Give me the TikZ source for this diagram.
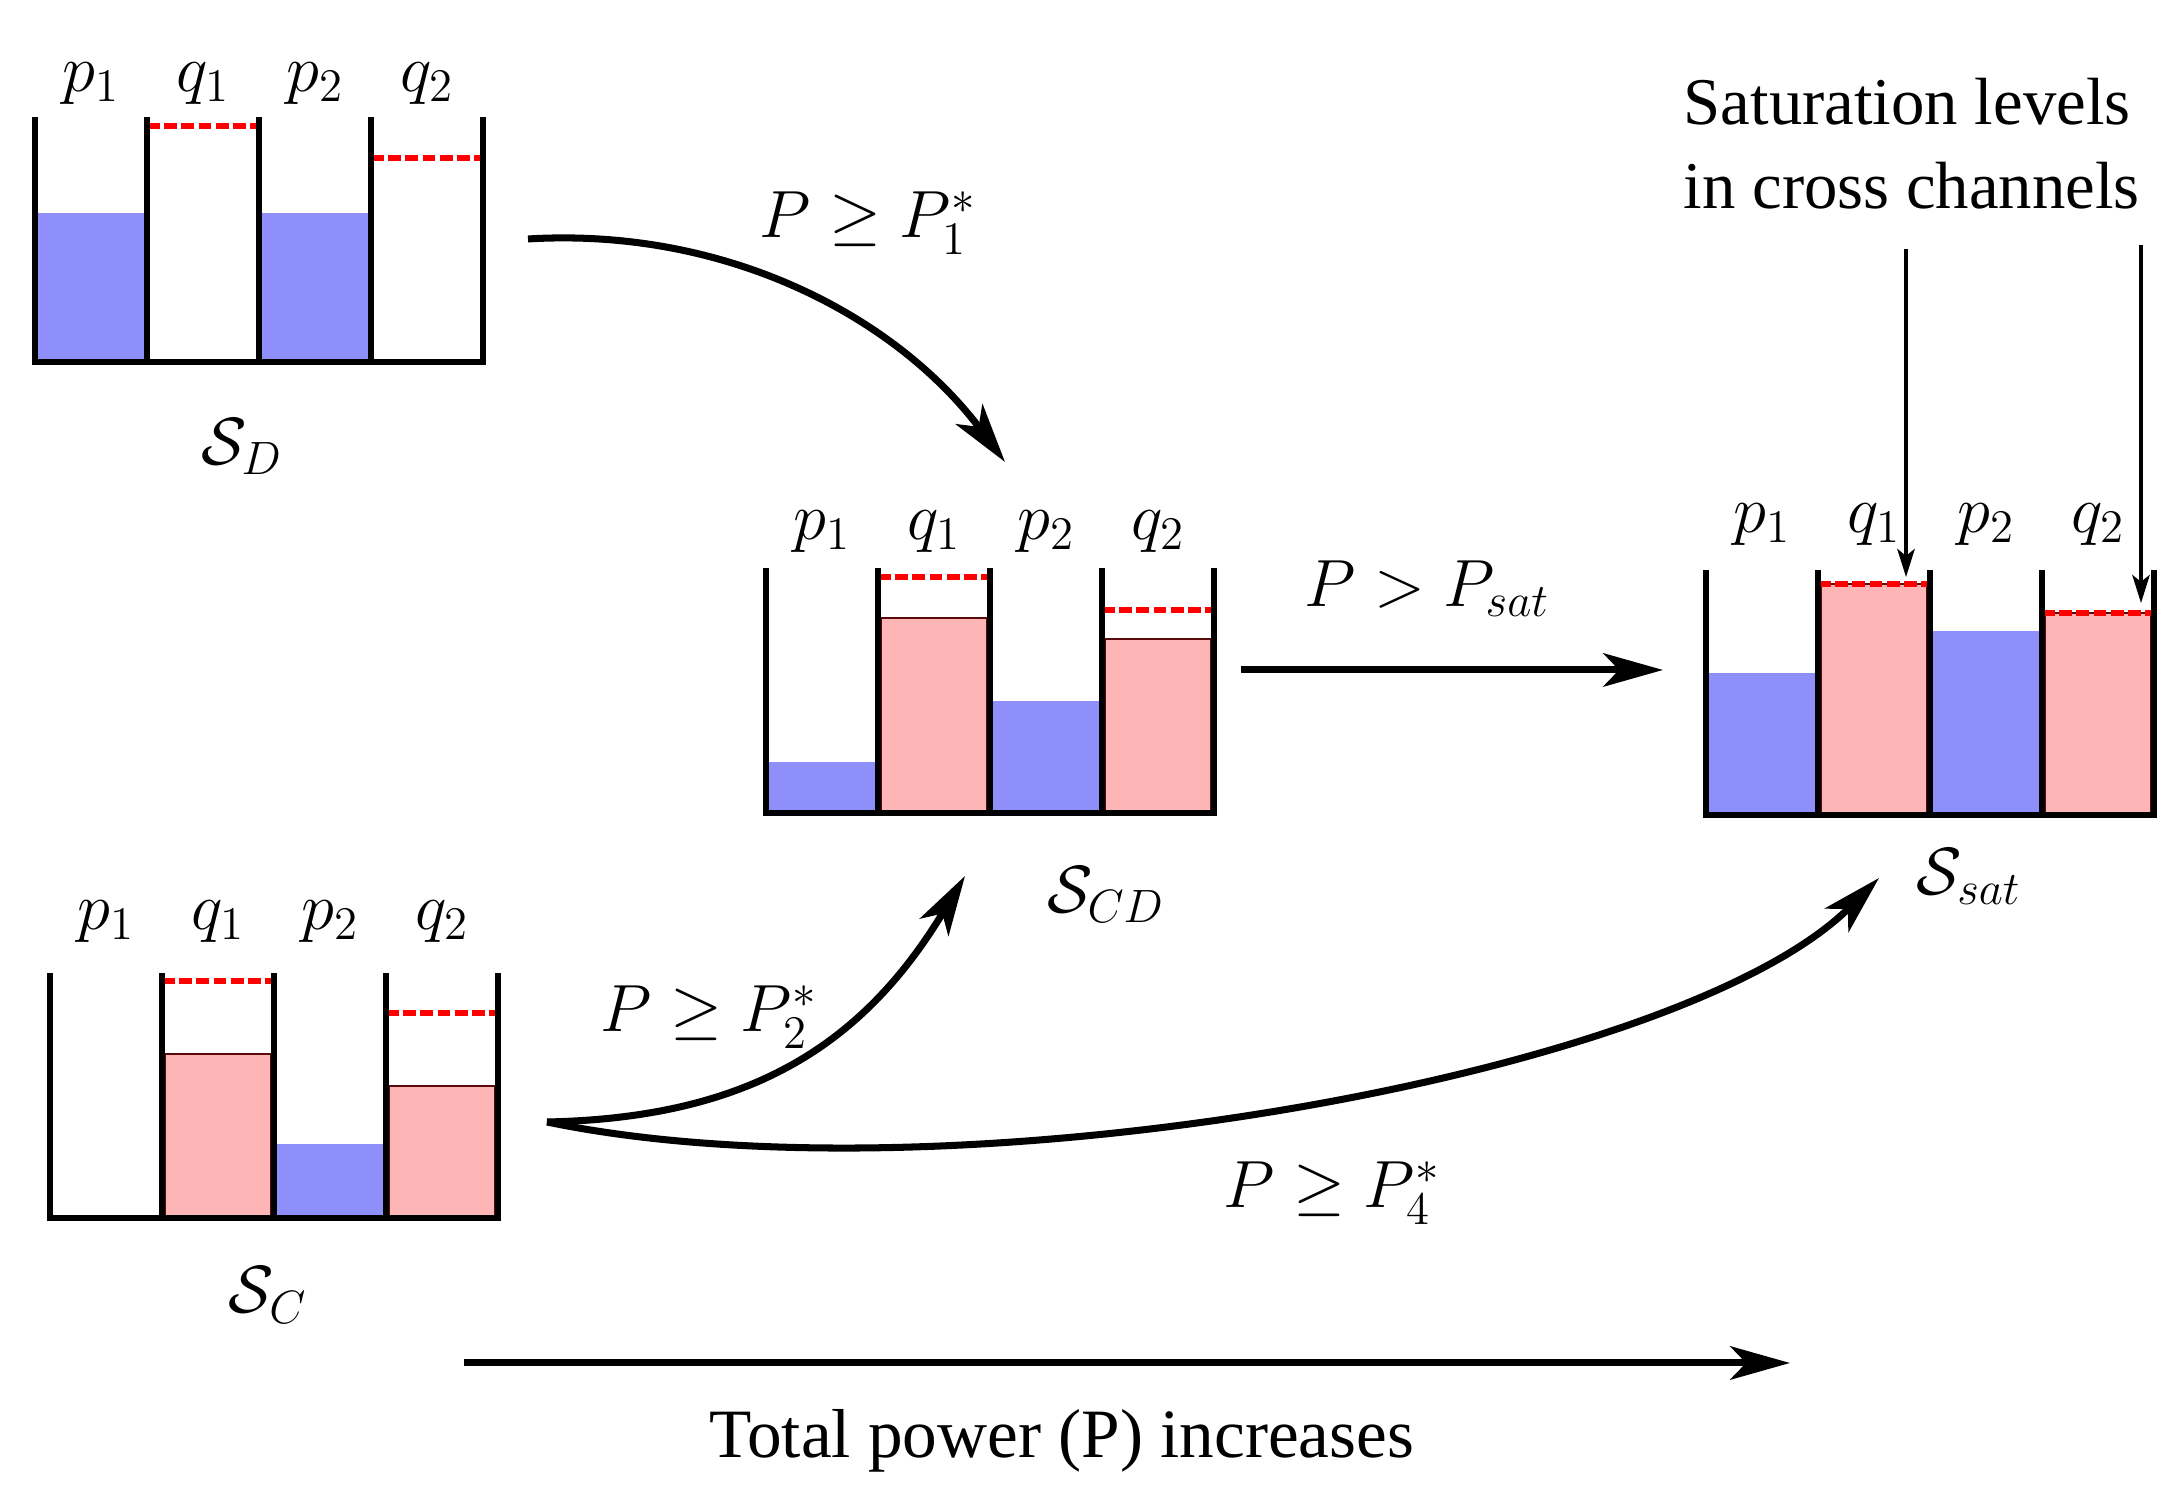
\RequirePackage{fix-cm}
\documentclass[tikz,border=0pt]{standalone}
\usepackage[no-math]{fontspec}
\setmainfont{Liberation Serif}
\usetikzlibrary{arrows.meta}
\definecolor{pblue}{RGB}{143,143,252}
\definecolor{qpink}{RGB}{253,181,181}
\definecolor{qedge}{RGB}{90,10,10}

% #1 name, #2 origin, #3-#6 fill of p1 q1 p2 q2, #7 #8 saturation of q1 q2, #9 label lift
\newcommand{\tankrow}[9]{%
    \begin{scope}[shift={#2}]
        \fill[pbar] (0,0) rectangle (1.12,#3);
        \fill[pbar] (2.24,0) rectangle (3.36,#5);
        \filldraw[qbar] (1.15,0.02) rectangle (2.21,#4);
        \filldraw[qbar] (3.39,0.02) rectangle (4.45,#6);
        \draw[satline] (1.12,#7) -- (2.24,#7);
        \draw[satline] (3.36,#8) -- (4.48,#8);
        \draw[wall] (0,2.45) -- (0,0) -- (4.48,0) -- (4.48,2.45);
        \foreach \x in {1.12,2.24,3.36}{
            \draw[wall] (\x,0) -- (\x,2.45);
        }
        \node[chan] (#1-p1) at (0.56,{2.45+#9}) {$p_1$};
        \node[chan] (#1-q1) at (1.68,{2.45+#9}) {$q_1$};
        \node[chan] (#1-p2) at (2.80,{2.45+#9}) {$p_2$};
        \node[chan] (#1-q2) at (3.92,{2.45+#9}) {$q_2$};
    \end{scope}}

\begin{document}
\begin{tikzpicture}[
        font=\fontsize{19}{24}\selectfont,
        wall/.style={line width=1.5pt},
        satline/.style={red, line width=1.6pt, dash pattern=on 3.6pt off 1.3pt},
        pbar/.style={fill=pblue},
        qbar/.style={fill=qpink, draw=qedge, line width=0.6pt},
        flow/.style={line width=2pt, -{Stealth[length=17pt,width=9.5pt,inset=4.5pt]}},
        pointer/.style={line width=0.9pt, -{Stealth[length=8pt,width=5pt,inset=2pt]}},
        chan/.style={anchor=base, inner sep=0pt},
    ]
    \useasboundingbox (0,0) rectangle (21.82,15.02);

    % the four states
    \tankrow{D}{(0.35,11.40)}{1.49}{0}{1.49}{0}{2.36}{2.04}{0.25}
    \tankrow{CD}{(7.66,6.89)}{0.51}{1.95}{1.12}{1.74}{2.36}{2.03}{0.28}
    \tankrow{C}{(0.50,2.84)}{0}{1.64}{0.74}{1.32}{2.37}{2.05}{0.43}
    \tankrow{sat}{(17.06,6.87)}{1.42}{2.31}{1.84}{2.02}{2.31}{2.02}{0.37}

    \node[chan] (SD) at (2.42,10.37) {$\mathcal{S}_D$};
    \node[chan] (SCD) at (11.06,5.89) {$\mathcal{S}_{CD}$};
    \node[chan] (SC) at (2.68,1.89) {$\mathcal{S}_C$};
    \node[chan] (Ssat) at (19.69,6.07) {$\mathcal{S}_{sat}$};

    % transitions
    \coordinate (D-out) at (5.28,12.63);
    \coordinate (CD-in) at (10.05,10.40);
    \coordinate (CD-out) at (12.41,8.32);
    \coordinate (sat-in) at (16.63,8.32);
    \coordinate (C-out) at (5.47,3.80);
    \coordinate (CD-in2) at (9.65,6.26);
    \coordinate (sat-in2) at (18.79,6.24);

    \draw[flow] (D-out) .. controls (7.28,12.75) and (8.97,11.84) .. (CD-in);
    \draw[flow] (CD-out) -- (sat-in);
    \draw[flow] (C-out) .. controls (7.47,3.84) and (8.62,4.55) .. (CD-in2);
    \draw[flow] (C-out) .. controls (9.47,2.97) and (16.79,4.24) .. (sat-in2);

    \node[chan] (t1) at (8.68,12.64) {$P \geq P_1^*$};
    \node[chan] (tsat) at (14.27,8.95) {$P > P_{sat}$};
    \node[chan] (t2) at (7.09,4.70) {$P \geq P_2^*$};
    \node[chan] (t4) at (13.32,2.94) {$P \geq P_4^*$};

    % saturation note
    \node[align=left, anchor=north west, inner sep=0pt] (note) at (16.83,14.25)
        {Saturation levels\\in cross channels};
    \coordinate (note-a) at (19.06,12.53);
    \coordinate (note-b) at (21.41,12.57);
    \coordinate (lvl-a) at (19.06,9.25);
    \coordinate (lvl-b) at (21.41,8.99);
    \draw[pointer] (note-a) -- (lvl-a);
    \draw[pointer] (note-b) -- (lvl-b);

    % power axis
    \coordinate (pw-a) at (4.64,1.39);
    \coordinate (pw-b) at (17.90,1.39);
    \draw[flow] (pw-a) -- (pw-b);
    \node[chan, font=\fontsize{19.7}{24}\selectfont] (pw) at (10.62,0.44) {Total power (P) increases};
\end{tikzpicture}
\end{document}
